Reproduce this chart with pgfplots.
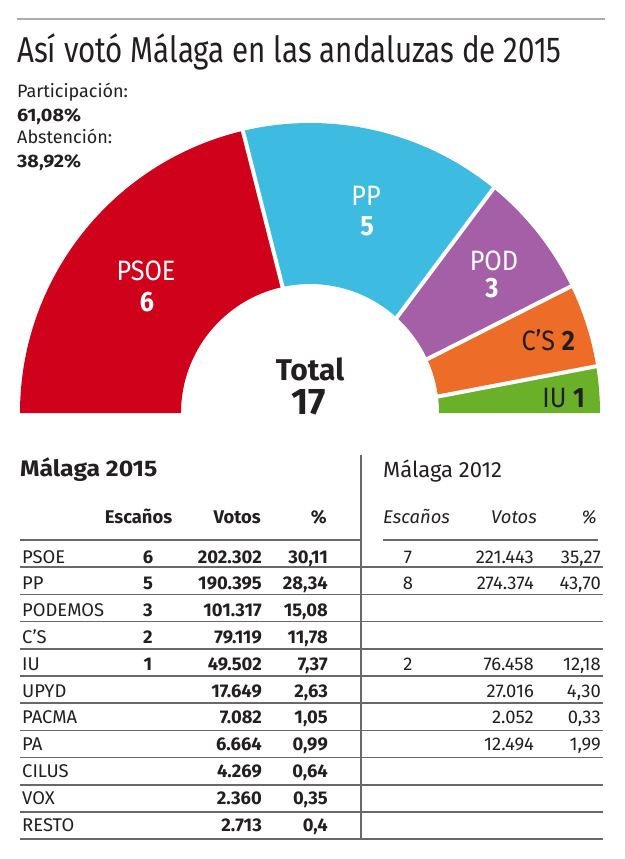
\documentclass[border=0pt]{standalone}
\usepackage{pgfplots}
\pgfplotsset{compat=1.18}
\usepackage{pgfplotstable}
\usepackage{fontspec}
\setmainfont{Fira Sans}
\newfontfamily\titlefont{Fira Sans}[FakeStretch=0.82]
\newfontfamily\condfont{Fira Sans}[FakeStretch=0.9]
\newfontfamily\widefont{Fira Sans}[FakeStretch=1.1]
\definecolor{ink}{RGB}{35,31,32}
\definecolor{cpsoe}{RGB}{208,2,27}
\definecolor{cpp}{RGB}{62,187,224}
\definecolor{cpod}{RGB}{165,95,166}
\definecolor{ccs}{RGB}{236,108,40}
\definecolor{ciu}{RGB}{106,176,40}
\definecolor{rulegray}{RGB}{105,105,105}
\newcommand{\fs}[1]{\fontsize{#1}{#1}\selectfont}
% color, outer start, outer end, inner start, inner end (degrees)
\newcommand{\sector}[5]{%
  \fill[#1] ([shift={(#2:290pt)}]C) arc[start angle=#2, end angle=#3, radius=290pt]
    -- ([shift={(#5:129pt)}]C) arc[start angle=#5, end angle=#4, radius=129pt] -- cycle;}
\newcommand{\gap}[2]{%
  \draw[white, line width=4pt] ([shift={(#1:124pt)}]C) -- ([shift={(#2:295pt)}]C);}

% Resultados Malaga: 2015 (izquierda) y 2012 (derecha)
\pgfplotstableread[col sep=semicolon]{
y;party;esc;votos;pct;escb;votosb;pctb
563;PSOE;6;202.302;30,11;7;221.443;35,27
589.8;PP;5;190.395;28,34;8;274.374;43,70
616.6;PODEMOS;3;101.317;15,08; ; ; 
643.4;C’S;2;79.119;11,78; ; ; 
670.2;IU;1;49.502;7,37;2;76.458;12,18
697;UPYD; ;17.649;2,63; ;27.016;4,30
723.8;PACMA; ;7.082;1,05; ;2.052;0,33
750.6;PA; ;6.664;0,99; ;12.494;1,99
777.4;CILUS; ;4.269;0,64; ; ; 
804.2;VOX; ;2.360;0,35; ; ; 
831;RESTO; ;2.713;0,4; ; ; 
}\tabA

\begin{document}
\begin{tikzpicture}
\begin{axis}[name=A, width=624pt, height=859pt, scale only axis,
  xmin=0, xmax=624, ymin=0, ymax=859, y dir=reverse, hide axis, clip=false,
  nodes near coords={\pgfplotspointmeta}, point meta=explicit symbolic,
  every node near coord/.append style={inner sep=0pt, text=ink}]

% full page frame (invisible)
\path (axis cs:0,0) rectangle (axis cs:624,859);
\coordinate (C) at (axis cs:310,413);
% semicircle of seats
\sector{cpsoe}{180}{103.4}{180}{102.2}
\sector{cpp}{103.4}{50.8}{102.2}{47.5}
\sector{cpod}{50.8}{25.9}{47.5}{24.6}
\sector{ccs}{25.9}{9.3}{24.6}{7.2}
\sector{ciu}{9.3}{0}{7.2}{0}
\gap{102.2}{103.4}
\gap{47.5}{50.8}
\gap{24.6}{25.9}
\gap{7.2}{9.3}

% top rule and title
\draw[gray!65, line width=2pt] (axis cs:17,19) -- (axis cs:605,19);
\node[anchor=base west, inner sep=0pt, text=ink, font=\titlefont\fs{36}] at (axis cs:17,63) {Así votó Málaga en las andaluzas de 2015};
\node[anchor=base west, inner sep=0pt, text=ink, font=\fs{18}] at (axis cs:17,97) {Participación:};
\node[anchor=base west, inner sep=0pt, text=ink, font=\widefont\bfseries\fs{18}] at (axis cs:17,121) {61,08\%};
\node[anchor=base west, inner sep=0pt, text=ink, font=\fs{18}] at (axis cs:17,143) {Abstención:};
\node[anchor=base west, inner sep=0pt, text=ink, font=\widefont\bfseries\fs{18}] at (axis cs:17,167) {38,92\%};

% sector labels
\node[anchor=base, inner sep=0pt, text=white, font=\condfont\fs{28}] at (axis cs:146,280) {PSOE};
\node[anchor=base, inner sep=0pt, text=white, font=\condfont\bfseries\fs{28}] at (axis cs:147,311) {6};
\node[anchor=base, inner sep=0pt, text=white, font=\condfont\fs{28}] at (axis cs:366,205) {PP};
\node[anchor=base, inner sep=0pt, text=white, font=\condfont\bfseries\fs{28}] at (axis cs:367,235) {5};
\node[anchor=base, inner sep=0pt, text=white, font=\condfont\fs{28}] at (axis cs:494,270) {POD};
\node[anchor=base, inner sep=0pt, text=white, font=\condfont\bfseries\fs{28}] at (axis cs:492,297) {3};
\node[anchor=base east, inner sep=0pt, text=ink, font=\condfont\fs{28}] at (axis cs:575,350) {C’S \textbf{2}};
\node[anchor=base east, inner sep=0pt, text=ink, font=\condfont\fs{28}] at (axis cs:585,407) {IU \textbf{1}};
\node[anchor=base, inner sep=0pt, text=ink, font=\bfseries\fs{30}] at (axis cs:310,380) {Total};
\node[anchor=base, inner sep=0pt, text=ink, font=\bfseries\fs{37}] at (axis cs:309,414) {17};

% table frame
\node[anchor=base west, inner sep=0pt, text=ink, font=\widefont\bfseries\fs{22.5}] at (axis cs:20,476) {Málaga 2015};
\node[anchor=base west, inner sep=0pt, text=ink, font=\fs{22}] at (axis cs:383,477) {Málaga 2012};
\node[anchor=base, inner sep=0pt, text=ink, font=\bfseries\fs{18.4}] at (axis cs:138.5,523) {Escaños};
\node[anchor=base east, inner sep=0pt, text=ink, font=\bfseries\fs{18.4}] at (axis cs:261,523) {Votos};
\node[anchor=base east, inner sep=0pt, text=ink, font=\bfseries\fs{18.4}] at (axis cs:327,523) {\%};
\node[anchor=base west, inner sep=0pt, text=ink, font=\itshape\fs{18.4}] at (axis cs:383,523) {Escaños};
\node[anchor=base east, inner sep=0pt, text=ink, font=\itshape\fs{18.4}] at (axis cs:537,523) {Votos};
\node[anchor=base east, inner sep=0pt, text=ink, font=\itshape\fs{18.4}] at (axis cs:597,523) {\%};
\draw[rulegray, line width=1.6pt] (axis cs:20,540) -- (axis cs:361,540);
\draw[rulegray, line width=1.6pt] (axis cs:383,540) -- (axis cs:598,540);
\pgfplotsinvokeforeach{567.2,594.4,621.6,648.8,676,703.2,730.4,757.6,784.8,812,839.2}{
  \draw[rulegray, line width=1.6pt] (axis cs:20,#1) -- (axis cs:603,#1);}
\draw[rulegray, line width=1.6pt] (axis cs:361,455) -- (axis cs:361,839.2);

% table values
\addplot[draw=none, every node near coord/.append style={anchor=base west, font=\fs{18.4}}] table[x expr=22, y=y, meta=party]{\tabA};
\addplot[draw=none, every node near coord/.append style={anchor=base, font=\bfseries\fs{18.4}}] table[x expr=148, y=y, meta=esc]{\tabA};
\addplot[draw=none, every node near coord/.append style={anchor=base east, font=\bfseries\fs{18.4}}] table[x expr=262, y=y, meta=votos]{\tabA};
\addplot[draw=none, every node near coord/.append style={anchor=base east, font=\bfseries\fs{18.4}}] table[x expr=328, y=y, meta=pct]{\tabA};
\addplot[draw=none, every node near coord/.append style={anchor=base, font=\fs{18.4}}] table[x expr=408, y=y, meta=escb]{\tabA};
\addplot[draw=none, every node near coord/.append style={anchor=base east, font=\fs{18.4}}] table[x expr=534, y=y, meta=votosb]{\tabA};
\addplot[draw=none, every node near coord/.append style={anchor=base east, font=\fs{18.4}}] table[x expr=601, y=y, meta=pctb]{\tabA};
\end{axis}
\end{tikzpicture}
\end{document}
